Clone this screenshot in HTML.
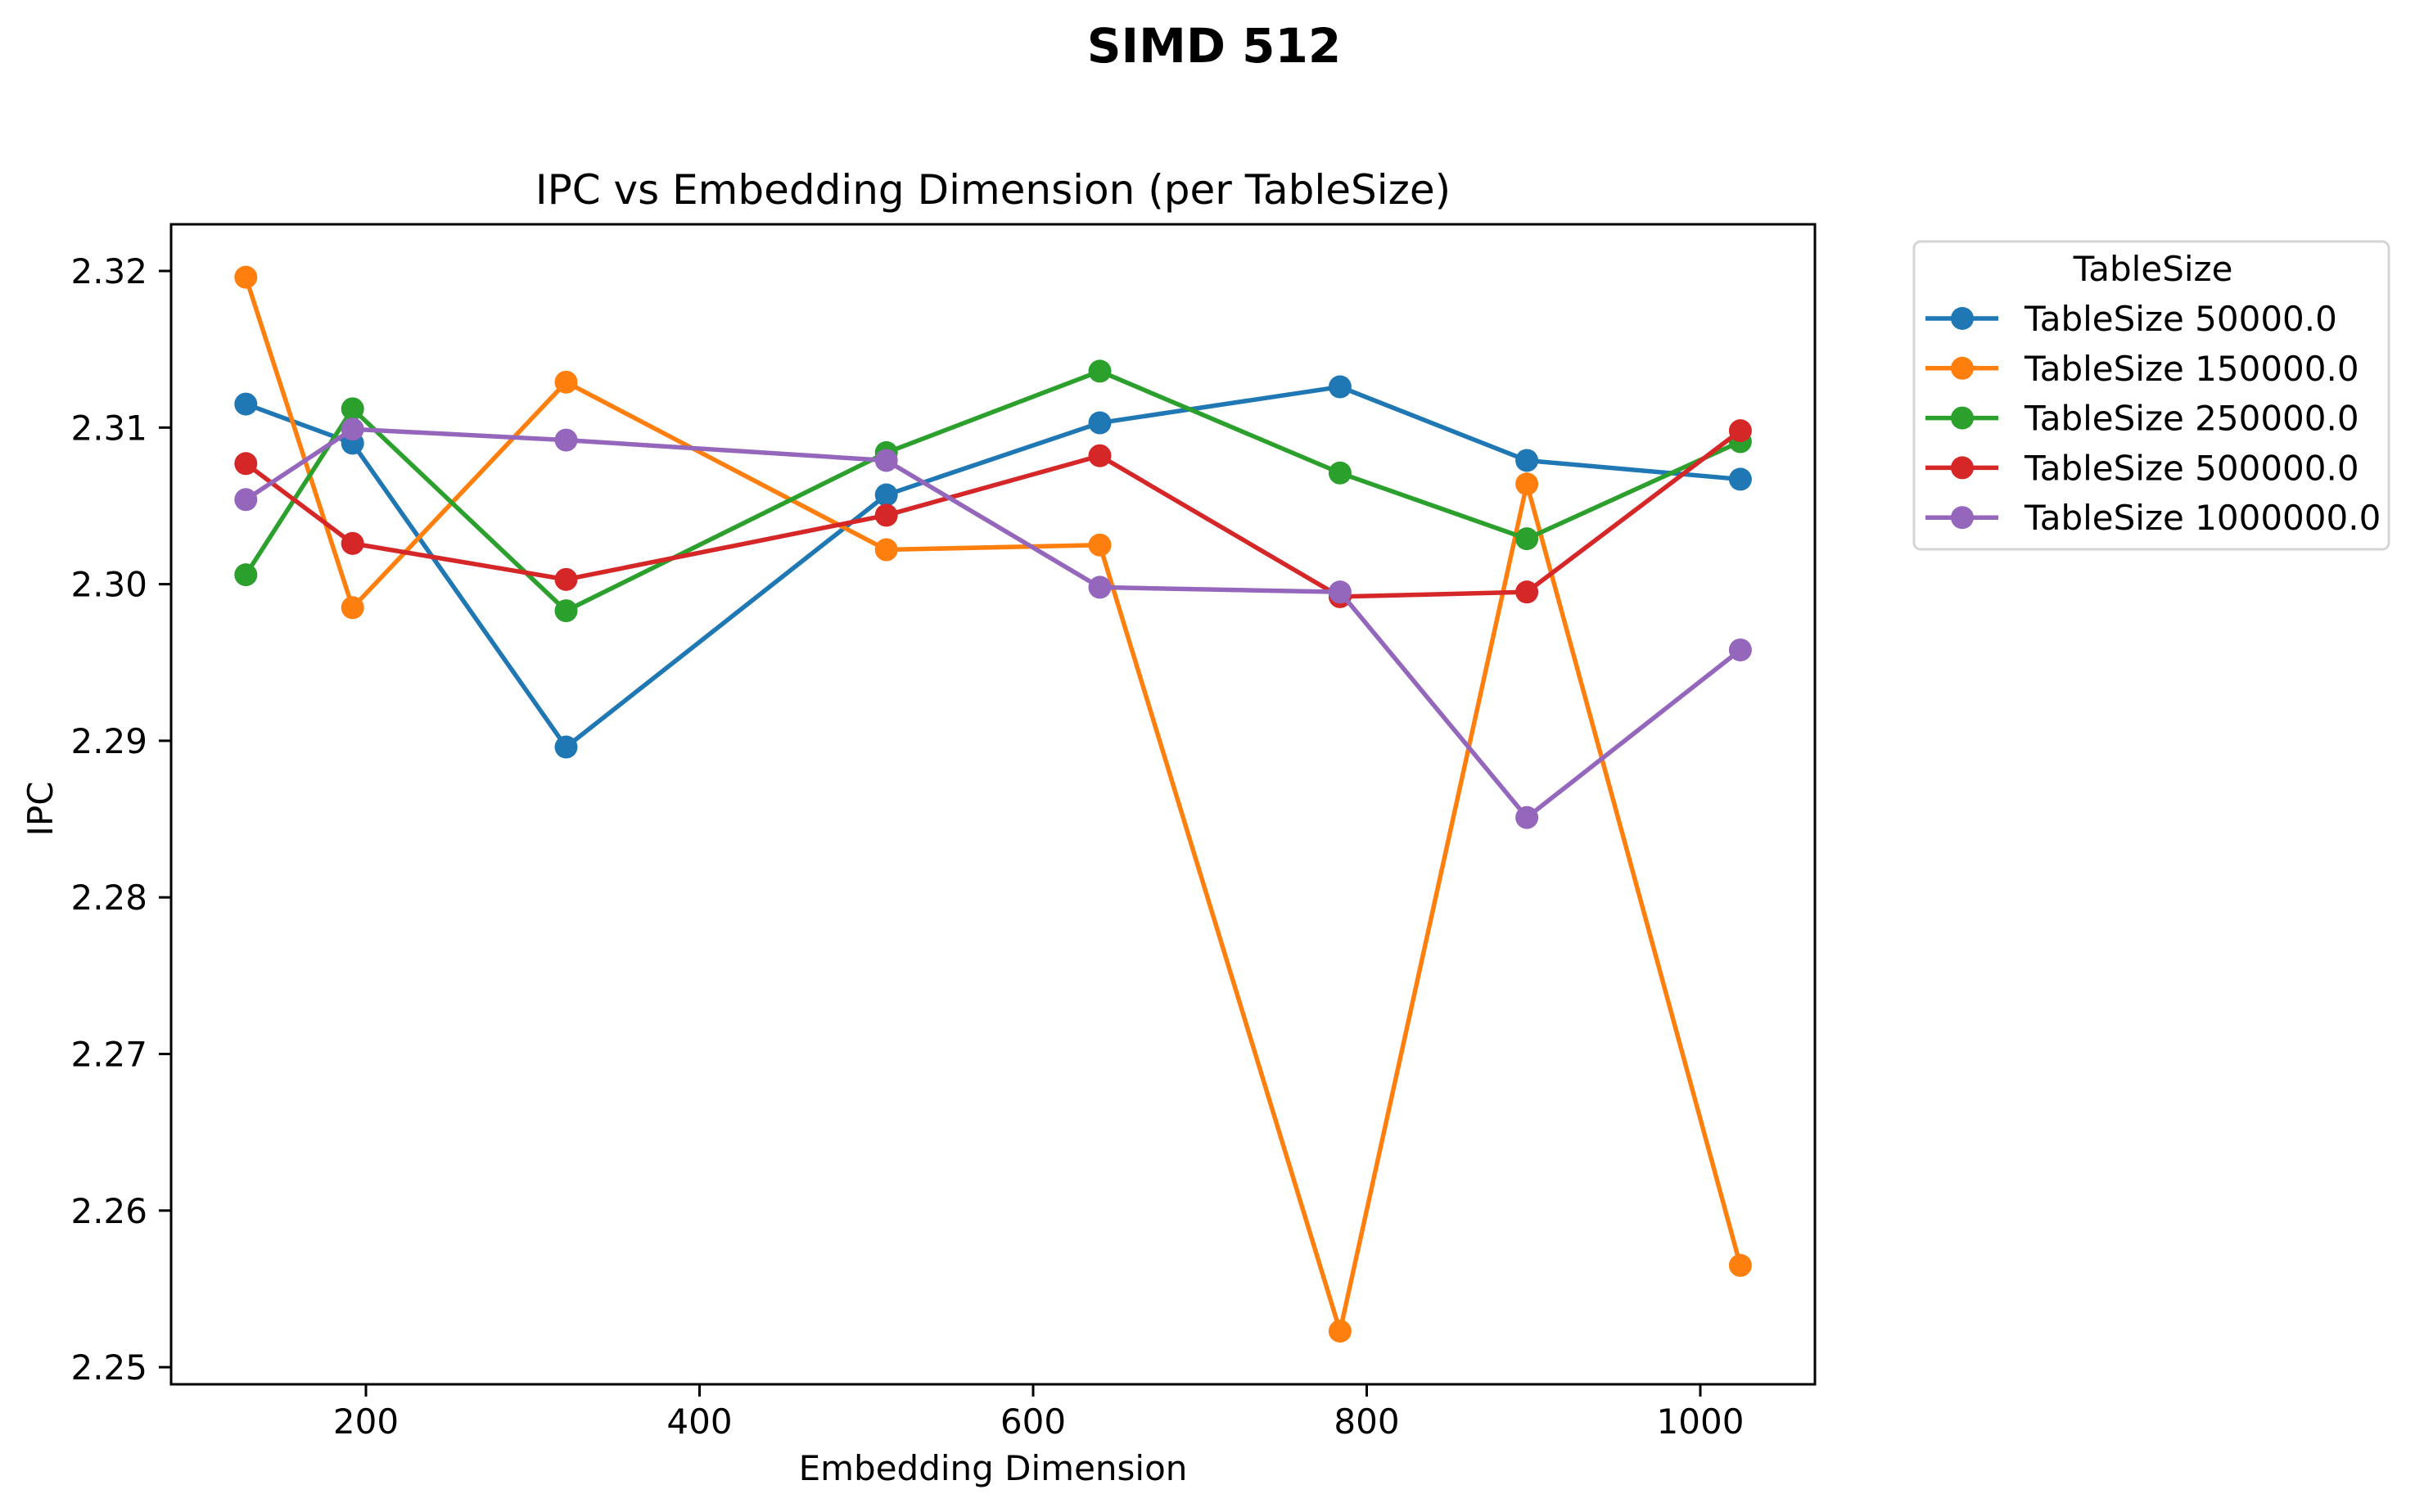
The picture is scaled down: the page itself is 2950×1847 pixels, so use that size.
<!DOCTYPE html>
<html><head><meta charset="utf-8"><style>
body{margin:0;background:#fff}
svg{display:block;font-family:"DejaVu Sans","Liberation Sans",sans-serif}
</style></head><body>
<svg id="chart" width="2950" height="1847" viewBox="0 0 2950 1847">
<rect width="2950" height="1847" fill="#fff"/>
<text x="1483" y="76" font-size="58" font-weight="bold" text-anchor="middle">SIMD 512</text>
<text x="1213" y="249" font-size="50" text-anchor="middle">IPC vs Embedding Dimension (per TableSize)</text>
<text x="1213" y="1808" font-size="42" text-anchor="middle">Embedding Dimension</text>
<text x="0" y="0" font-size="42" text-anchor="middle" transform="translate(64,988) rotate(-90)">IPC</text>
<g id="ticks"></g>
<g id="series"></g>
<rect x="209" y="274" width="2008" height="1417" fill="none" stroke="#000" stroke-width="3"/>
<g id="legend">
<rect x="2338" y="295" width="580" height="376" rx="8" fill="#fff" stroke="#d5d5d5" stroke-width="3"/>
<text x="2630" y="343" font-size="42" text-anchor="middle">TableSize</text>
</g>
</svg>
<script>
const xs = [128,192,320,512,640,784,896,1024];
const names = ["TableSize 50000.0","TableSize 150000.0","TableSize 250000.0","TableSize 500000.0","TableSize 1000000.0"];
const colors = ["#1f77b4","#ff7f0e","#2ca02c","#d62728","#9467bd"];
const s50k = [2.3115,2.3090,2.2896,2.3057,2.3103,2.3126,2.3079,2.3067];
const s150k = [2.3196,2.2985,2.3129,2.3022,2.3025,2.2523,2.3064,2.2565];
const s250k = [2.3006,2.3112,2.2983,2.3084,2.3136,2.3071,2.3029,2.3091];
const s500k = [2.3077,2.3026,2.3003,2.3044,2.3082,2.2992,2.2995,2.3098];
const s1m = [2.3054,2.3099,2.3092,2.3079,2.2998,2.2995,2.2851,2.2958];
const xTicks = [200,400,600,800,1000];
const yTicks = [2.25,2.26,2.27,2.28,2.29,2.30,2.31,2.32];
const allSeries = [s50k,s150k,s250k,s500k,s1m];
const NS="http://www.w3.org/2000/svg";
function X(v){return 447+(v-200)*2.0375;}
function Y(v){return 331+(2.32-v)*19130;}
function mk(tag,attrs,parent){const e=document.createElementNS(NS,tag);for(const k in attrs)e.setAttribute(k,attrs[k]);parent.appendChild(e);return e;}
const tg=document.getElementById('ticks');
xTicks.forEach(t=>{
  const l=mk('line',{x1:X(t),x2:X(t),y1:1691,y2:1706,stroke:'#000','stroke-width':3},tg);
  
  
  const tx=mk('text',{x:X(t),y:1751,'font-size':42,'text-anchor':'middle'},tg);
  tx.textContent=t;
  
  
});
yTicks.forEach(t=>{
  const l=mk('line',{x1:194,x2:209,y1:Y(t),y2:Y(t),stroke:'#000','stroke-width':3},tg);
  
  
  const tx=mk('text',{x:180,y:Y(t)+15,'font-size':42,'text-anchor':'end'},tg);
  tx.textContent=t.toFixed(2);
  
  
});
const sg=document.getElementById('series');
allSeries.forEach((s,i)=>{
  const g=mk('g',{},sg);
  
  
  const p=mk('polyline',{points:s.map((v,j)=>X(xs[j])+','+Y(v)).join(' '),fill:'none',stroke:colors[i],'stroke-width':5.5,'stroke-linejoin':'round'},g);
  
  
  s.forEach((v,j)=>{
    const c=mk('circle',{cx:X(xs[j]),cy:Y(v),r:14,fill:colors[i]},g);
    
    
  });
});
const lg=document.getElementById('legend');
names.forEach((n,i)=>{
  const y=389+i*60.8;
  const g=mk('g',{},lg);
  
  
  mk('line',{x1:2352,x2:2441,y1:y,y2:y,stroke:colors[i],'stroke-width':5.5},g);
  mk('circle',{cx:2397,cy:y,r:14,fill:colors[i]},g);
  const t=mk('text',{x:2473,y:y+15,'font-size':42},g);
  t.textContent=n;
});
</script>
</body></html>
